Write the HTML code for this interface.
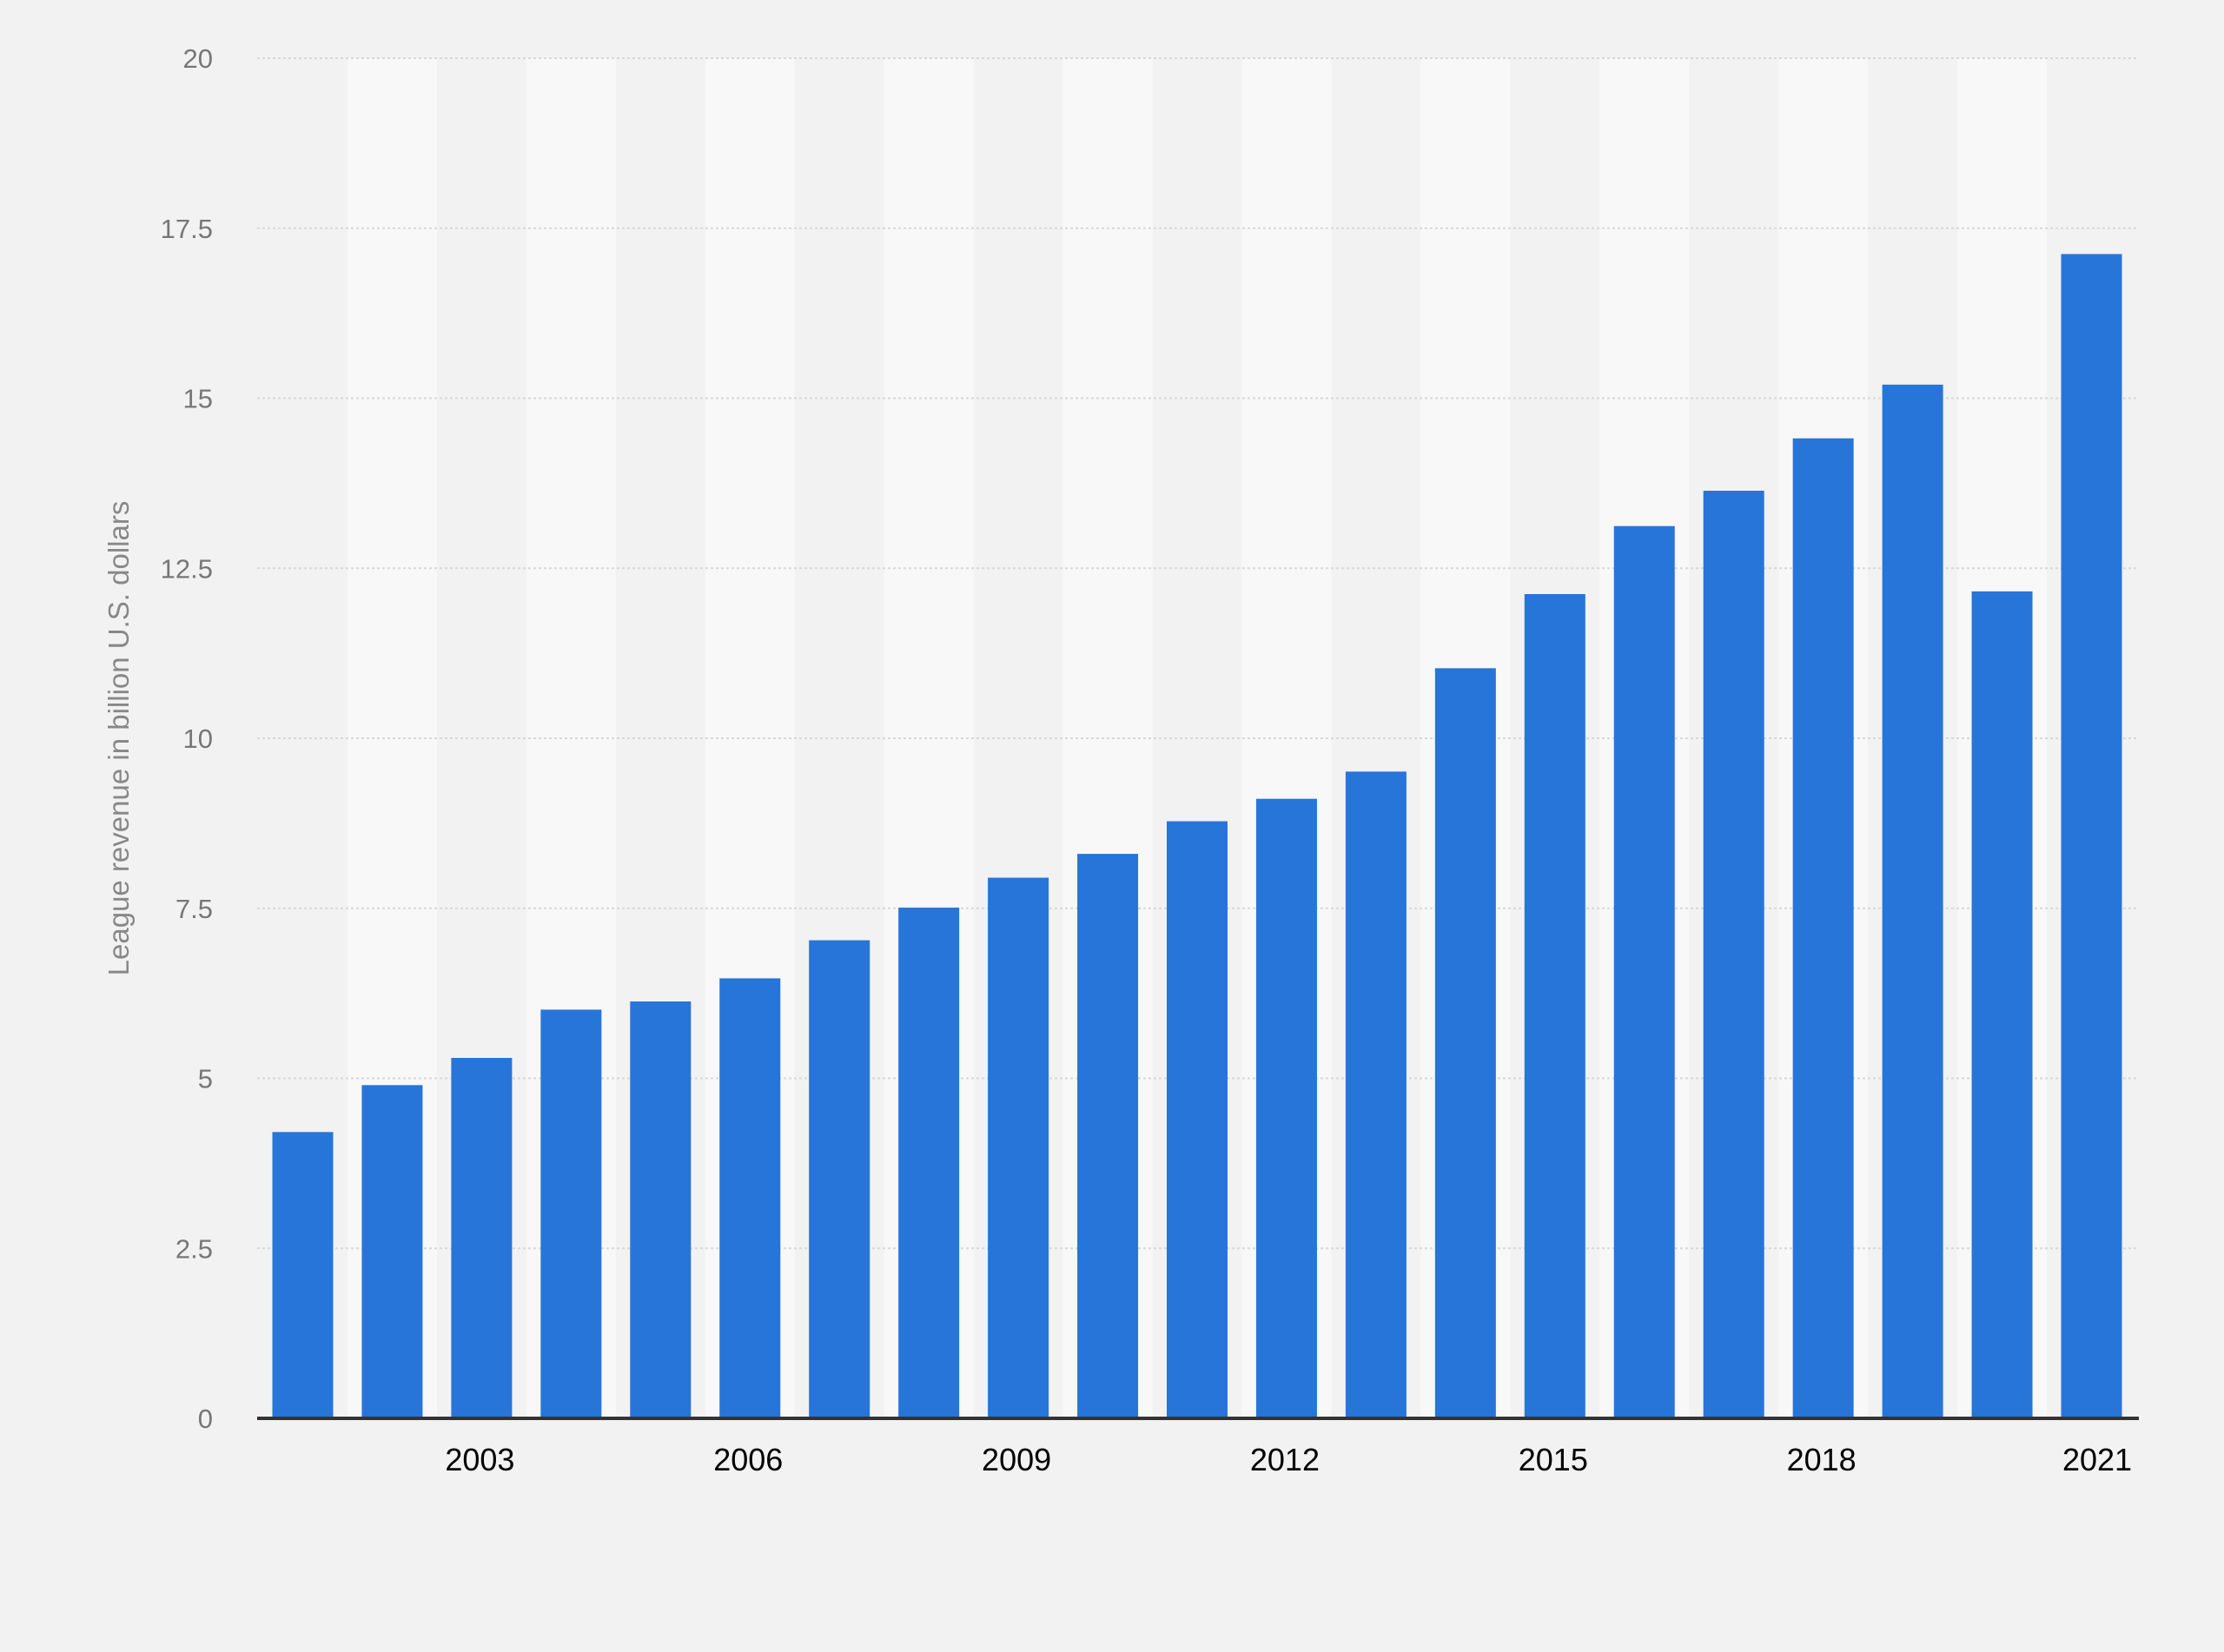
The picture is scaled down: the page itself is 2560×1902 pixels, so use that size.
<!DOCTYPE html>
<html><head><meta charset="utf-8"><style>
html,body{margin:0;padding:0;background:#f2f2f2;}
svg{display:block;font-family:"Liberation Sans",Arial,sans-serif;}
</style></head><body>
<svg id="chart" width="2560" height="1902" viewBox="0 0 2560 1902" xmlns="http://www.w3.org/2000/svg">
<rect x="0" y="0" width="2560" height="1902" fill="#f2f2f2"/>
<g id="bands"></g><g id="grid"></g><g id="bars"></g><g id="yticks"></g><g id="xticks"></g>
<line x1="296" y1="1633" x2="2462" y2="1633" stroke="#333" stroke-width="4"/>
<text x="148" y="850" transform="rotate(-90 148 850)" text-anchor="middle" font-size="33" fill="#888">League revenue in billion U.S. dollars</text>
</svg>
<script>
const years = [2001,2002,2003,2004,2005,2006,2007,2008,2009,2010,2011,2012,2013,2014,2015,2016,2017,2018,2019,2020,2021];
const revenue = [4.21,4.90,5.30,6.01,6.13,6.47,7.03,7.51,7.95,8.30,8.78,9.11,9.51,11.03,12.12,13.12,13.64,14.41,15.20,12.16,17.12];
const yTicks = [0,2.5,5,7.5,10,12.5,15,17.5,20];
const yTickLabels = ["0","2.5","5","7.5","10","12.5","15","17.5","20"];
const xLabelYears = [2003,2006,2009,2012,2015,2018,2021];

const NS="http://www.w3.org/2000/svg";
const plotL=296, plotR=2462, y0=1633, y20=67;
const firstX=313.5, pitch=102.95, barW=70;
function yScale(v){return y0-(v/20)*(y0-y20);}
function xLeft(i){return firstX+i*pitch;}
function mk(tag,attrs,parent){const e=document.createElementNS(NS,tag);for(const k in attrs)e.setAttribute(k,attrs[k]);document.getElementById(parent).appendChild(e);return e;}

years.forEach((y,i)=>{
  if(i%2===1){
    const c=xLeft(i)+barW/2;
    const b=mk('rect',{x:c-pitch/2,y:y20,width:pitch,height:y0-y20,fill:'#f8f8f8'},'bands');
    
    
  }
});
yTicks.forEach((t,i)=>{
  const yy=yScale(t);
  if(t>0){
    const g=mk('line',{x1:plotL,x2:plotR,y1:yy,y2:yy,stroke:'#d8d8d8','stroke-width':2,'stroke-dasharray':'3 3'},'grid');
    
    
  }
  const tx=mk('text',{x:245,y:yy+11,'text-anchor':'end','font-size':31,fill:'#777'},'yticks');
  tx.textContent=yTickLabels[i];
  
  
});
years.forEach((y,i)=>{
  const v=revenue[i];
  const r=mk('rect',{x:xLeft(i),y:yScale(v),width:barW,height:y0-yScale(v),fill:'#2775d9'},'bars');
  
  
});
xLabelYears.forEach((y,k)=>{
  const i=years.indexOf(y);
  let cx=xLeft(i)+barW/2;
  if(k===xLabelYears.length-1) cx=Math.min(cx+10,plotR-46);
  const t=mk('text',{x:cx-2,y:1693,'text-anchor':'middle','font-size':36,fill:'#000'},'xticks');
  t.textContent=String(y);
  
  
});
</script>
</body></html>
